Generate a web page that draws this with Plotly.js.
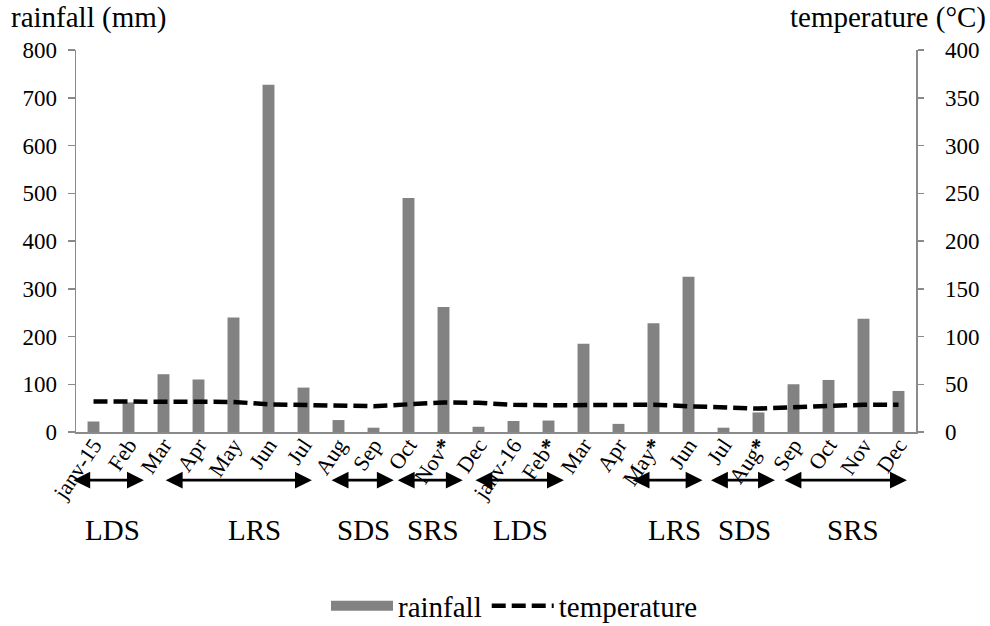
<!DOCTYPE html>
<html>
<head>
<meta charset="utf-8">
<script src="https://cdn.plot.ly/plotly-3.0.1.min.js"></script>
<style>html,body{margin:0;padding:0;background:#fff;}#chart{width:990px;height:626px;}</style>
</head>
<body>
<div id="chart"></div>
<script>
// Month labels (asterisk marks sampling months)
const monthLabels = ['janv-15','Feb','Mar','Apr','May','Jun','Jul','Aug','Sep','Oct','Nov<b>*</b>','Dec',
                     'janv-16','Feb<b>*</b>','Mar','Apr','May<b>*</b>','Jun','Jul','Aug<b>*</b>','Sep','Oct','Nov','Dec'];
// Monthly rainfall (mm)
const rainfall = [22, 62, 121, 110, 240, 727, 93, 25, 9, 490, 262, 11,
                  23, 24, 185, 17, 228, 325, 9, 41, 100, 109, 237, 86];
// Monthly mean temperature (°C)
const temperature = [32, 32, 32, 32, 31.5, 29, 28.5, 27, 27, 29, 31, 30.5,
                     28.5, 28, 28, 28.5, 28.5, 27, 25.5, 24.5, 26, 27.5, 28.5, 28.5];
// Seasons: label, start and end (month index), label position (month index)
const seasonLabels = ['LDS','LRS','SDS','SRS','LDS','LRS','SDS','SRS'];
const seasonStart  = [-0.62, 2.02, 6.76, 8.65, 10.87, 15.36, 17.6, 19.7];
const seasonEnd    = [1.44, 6.24, 8.58, 10.55, 13.44, 17.4, 19.47, 23.24];
const seasonLabelPos = [0.53, 4.6, 7.7, 9.7, 12.2, 16.6, 18.6, 21.7];

const idx = monthLabels.map((_, i) => i);
const FONT = 'Liberation Serif, Times New Roman, serif';

const traces = [
  {
    type: 'bar', x: idx, y: rainfall, name: 'rainfall', yaxis: 'y',
    marker: {color: '#828282'}, showlegend: false, legendgroup: 'rain'
  },
  {
    type: 'scatter', mode: 'lines', x: [null], y: [null], name: 'rainfall',
    line: {color: '#828282', width: 11}, legendgroup: 'rain', hoverinfo: 'skip'
  },
  {
    type: 'scatter', mode: 'lines', x: idx, y: temperature, name: 'temperature', yaxis: 'y2',
    line: {color: '#000', width: 4.5, dash: '14px,6px'}
  }
];

const annotations = [
  {xref: 'paper', yref: 'paper', x: -0.08, y: 1.085, xanchor: 'left', yanchor: 'middle',
   text: 'rainfall (mm)', showarrow: false, font: {family: FONT, size: 29, color: '#000'}},
  {xref: 'paper', yref: 'paper', x: 1.0857, y: 1.085, xanchor: 'right', yanchor: 'middle',
   text: 'temperature (°C)', showarrow: false, font: {family: FONT, size: 29, color: '#000'}}
];
seasonLabels.forEach((lab, i) => {
  annotations.push({
    xref: 'x', yref: 'paper', x: seasonEnd[i], y: -0.126,
    axref: 'x', ayref: 'pixel', ax: seasonStart[i], ay: 0,
    text: '', showarrow: true, arrowside: 'end+start', arrowhead: 2,
    arrowsize: 1.3, arrowwidth: 2.6, arrowcolor: '#000', standoff: 0, startstandoff: 0
  });
  annotations.push({
    xref: 'x', yref: 'paper', x: seasonLabelPos[i], y: -0.257, xanchor: 'center', yanchor: 'middle',
    text: lab, showarrow: false, font: {family: FONT, size: 29, color: '#000'}
  });
});

const layout = {
  width: 990, height: 626,
  margin: {l: 76, r: 74, t: 50, b: 194, autoexpand: false},
  paper_bgcolor: '#fff', plot_bgcolor: '#fff',
  font: {family: FONT, color: '#000'},
  bargap: 0.66,
  showlegend: true,
  legend: {orientation: 'h', x: 0.522, xanchor: 'center', y: -0.455, yanchor: 'middle',
           font: {family: FONT, size: 29, color: '#000'}, itemwidth: 62, bgcolor: 'rgba(0,0,0,0)'},
  xaxis: {
    range: [-0.5, 23.5], tickvals: idx, ticktext: monthLabels, tickangle: -56,
    showgrid: false, zeroline: false, showline: true, linecolor: '#8a8a8a', linewidth: 1.5,
    ticks: '', ticklabelstandoff: -10, automargin: false,
    tickfont: {family: FONT, size: 22, color: '#000'}, fixedrange: true
  },
  yaxis: {
    range: [0, 800], dtick: 100, showgrid: false, zeroline: false, automargin: false,
    showline: true, linecolor: '#8a8a8a', linewidth: 1.5, ticks: 'outside', ticklen: 7,
    tickcolor: '#8a8a8a', tickwidth: 1.5, ticklabelstandoff: 6,
    tickfont: {family: FONT, size: 23, color: '#000'}
  },
  yaxis2: {
    range: [0, 400], dtick: 50, overlaying: 'y', side: 'right', showgrid: false, zeroline: false,
    automargin: false,
    showline: true, linecolor: '#8a8a8a', linewidth: 1.5, ticks: 'outside', ticklen: 6,
    tickcolor: '#8a8a8a', tickwidth: 1.5, ticklabelstandoff: 17,
    tickfont: {family: FONT, size: 23, color: '#000'}
  },
  annotations: annotations
};

Plotly.newPlot('chart', traces, layout, {displayModeBar: false, staticPlot: true});
</script>
</body>
</html>
